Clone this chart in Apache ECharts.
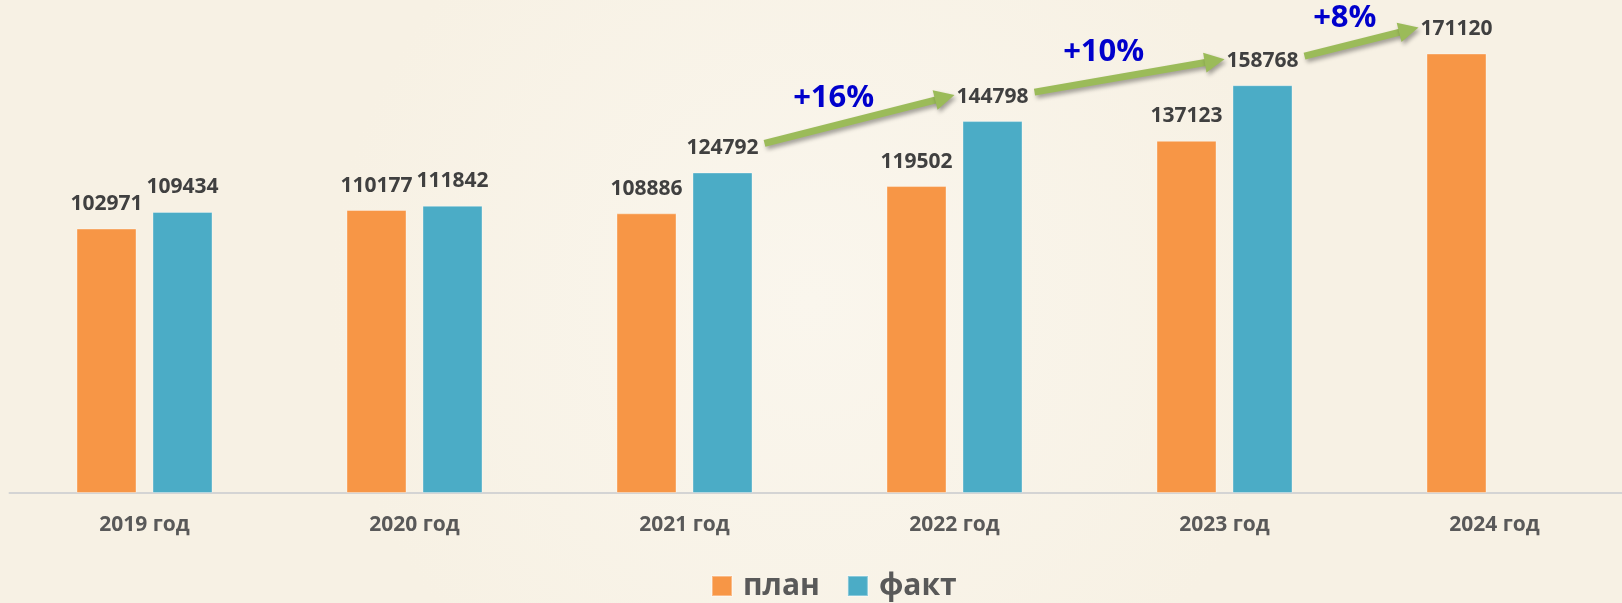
<!DOCTYPE html>
<html>
<head>
<meta charset="utf-8">
<script src="https://cdn.jsdelivr.net/npm/echarts@6/dist/echarts.min.js"></script>
<style>
html,body{margin:0;padding:0;}
#c{width:1622px;height:603px;}
</style>
</head>
<body>
<div id="c"></div>
<script>
const categories = ['2019 год', '2020 год', '2021 год', '2022 год', '2023 год', '2024 год'];
const planValues = [102971, 110177, 108886, 119502, 137123, 171120];
const factValues = [109434, 111842, 124792, 144798, 158768, null];
const seriesNames = ['план', 'факт'];
// growth arrows: [fromIndex, toIndex, label]
const growthFrom = [2, 3, 4];
const growthTo = [3, 4, 5];
const growthLabels = ['+16%', '+10%', '+8%'];

const FONT = '"Open Sans", "Noto Sans", sans-serif';
const chart = echarts.init(document.getElementById('c'), null, {renderer: 'canvas'});

const labelStyle = {
  show: true, position: 'top', distance: 14,
  color: '#404040', fontFamily: FONT, fontWeight: 'bold', fontSize: 21, lineHeight: 21
};

chart.setOption({
  animation: false,
  backgroundColor: {
    type: 'radial', x: 0.5, y: 0.5, r: 0.8,
    colorStops: [{offset: 0, color: '#FAF6ED'}, {offset: 1, color: '#F7F1E4'}]
  },
  legend: {
    left: 711, top: 571, padding: 0,
    itemWidth: 20, itemHeight: 20, itemGap: 27,
    icon: 'rect',
    textStyle: {color: '#595959', fontFamily: FONT, fontWeight: 'bold', fontSize: 30, lineHeight: 30, padding: [0, 0, 0, 6]},
    data: seriesNames
  },
  grid: {left: 9.5, top: 5, width: 1620, height: 488, outerBoundsMode: 'none', containLabel: false},
  xAxis: {
    type: 'category', data: categories,
    axisLine: {show: true, lineStyle: {color: '#D4D4D4', width: 2}},
    axisTick: {show: false},
    axisLabel: {color: '#595959', fontFamily: FONT, fontWeight: 'bold', fontSize: 21, margin: 22}
  },
  yAxis: {type: 'value', min: 0, max: 190000, show: false, splitLine: {show: false}},
  series: [
    {name: seriesNames[0], type: 'bar', data: planValues, barWidth: 60, barGap: '26.67%',
     itemStyle: {color: '#F79646', borderColor: 'rgba(255,255,255,0.35)', borderWidth: 1},
     label: labelStyle},
    {name: seriesNames[1], type: 'bar', data: factValues, barWidth: 60, barGap: '26.67%',
     itemStyle: {color: '#4BACC6', borderColor: 'rgba(255,255,255,0.35)', borderWidth: 1},
     label: labelStyle}
  ]
});

function barRect(seriesIndex, i) {
  const data = chart.getModel().getSeriesByIndex(seriesIndex).getData();
  const l = data.getItemLayout(i);
  return {cx: l.x + l.width / 2, top: Math.min(l.y, l.y + l.height)};
}
function labelAnchor(i) {
  return factValues[i] != null ? barRect(1, i) : barRect(0, i);
}

const graphics = [];
const shadow = {shadowBlur: 4, shadowOffsetX: 2, shadowOffsetY: 3, shadowColor: 'rgba(0,0,0,0.35)'};
for (let k = 0; k < growthLabels.length; k++) {
  const a = labelAnchor(growthFrom[k]);
  const b = labelAnchor(growthTo[k]);
  const x1 = a.cx + 42, y1 = a.top - 29;
  const x2 = b.cx - 38, y2 = b.top - 26;
  const ang = Math.atan2(y2 - y1, x2 - x1);
  const hl = 20, hw = 10;
  const bx = x2 - hl * Math.cos(ang), by = y2 - hl * Math.sin(ang);
  const px = -Math.sin(ang), py = Math.cos(ang);
  graphics.push({
    type: 'line', silent: true,
    shape: {x1: x1, y1: y1, x2: bx + 2 * Math.cos(ang), y2: by + 2 * Math.sin(ang)},
    style: Object.assign({stroke: '#9BBB59', lineWidth: 7}, shadow)
  });
  graphics.push({
    type: 'polygon', silent: true,
    shape: {points: [[x2, y2], [bx + px * hw, by + py * hw], [bx - px * hw, by - py * hw]]},
    style: Object.assign({fill: '#9BBB59'}, shadow)
  });
  const t = 0.38;
  graphics.push({
    type: 'text', silent: true,
    x: x1 + (x2 - x1) * t - 3, y: y1 + (y2 - y1) * t - 27,
    style: {text: growthLabels[k], fill: '#0000CC', font: 'bold 31px ' + FONT, align: 'center', verticalAlign: 'middle'}
  });
}
chart.setOption({graphic: graphics});
</script>
</body>
</html>
